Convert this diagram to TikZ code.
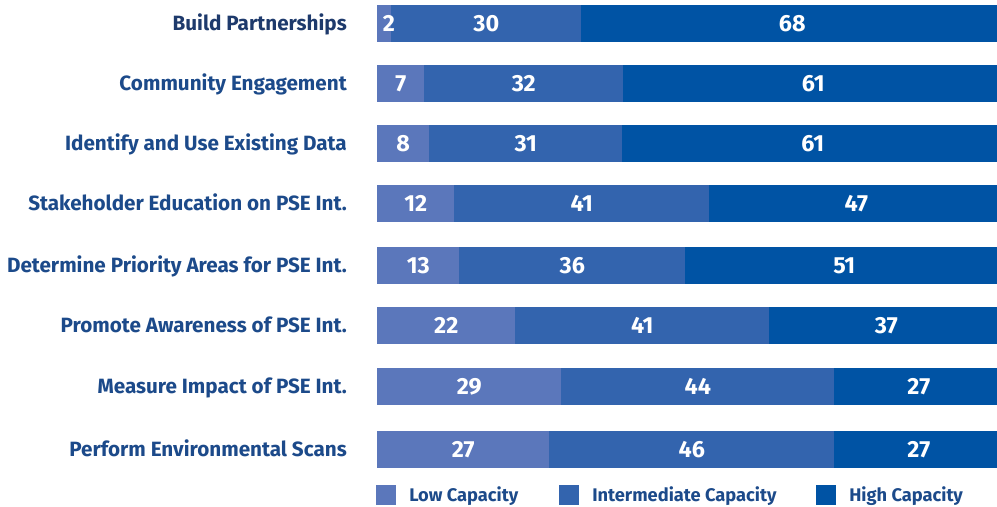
\documentclass[tikz,border=0pt]{standalone}
\usepackage{fontspec}
\setmainfont{Fira Sans}
\definecolor{lowc}{HTML}{5B77BB}
\definecolor{midc}{HTML}{3364AE}
\definecolor{highc}{HTML}{0053A4}
\definecolor{labc}{HTML}{1C4A8A}
\definecolor{labd}{HTML}{1E3A6C}
\begin{document}
\begin{tikzpicture}[x=0.75pt,y=-0.75pt,
  seg/.style={anchor=north west,inner sep=0pt,minimum height=27.75pt},
  num/.style={anchor=base,inner sep=0pt,text=white,font=\bfseries\fontsize{17.5}{17.5}\selectfont},
  rowlab/.style={anchor=base east,inner sep=0pt,text=labc,font=\bfseries\fontsize{15.5}{15.5}\selectfont},
  legbox/.style={anchor=north west,inner sep=0pt,minimum width=15pt,minimum height=15pt},
  legtext/.style={anchor=base west,inner sep=0pt,text=labc,font=\bfseries\fontsize{13.7}{13.7}\selectfont}]
\useasboundingbox[fill=white] (0,0) rectangle (997,507);
\foreach \i/\t/\xa/\xb/\va/\vb/\vc/\lab in {
  1/5/391/581/2/30/68/Build Partnerships,
  2/65/424/623/7/32/61/Community Engagement,
  3/125/429/622/8/31/61/Identify and Use Existing Data,
  4/185/454/709/12/41/47/Stakeholder Education on PSE Int.,
  5/247/459/685/13/36/51/Determine Priority Areas for PSE Int.,
  6/307/515/769/22/41/37/Promote Awareness of PSE Int.,
  7/368/561/834/29/44/27/Measure Impact of PSE Int.,
  8/431/549/834/27/46/27/Perform Environmental Scans}{
  \pgfmathsetmacro{\wa}{(\xa-377)*0.75}
  \pgfmathsetmacro{\wb}{(\xb-\xa)*0.75}
  \pgfmathsetmacro{\wc}{(997-\xb)*0.75}
  \node[seg,fill=lowc,minimum width=\wa pt] (a\i) at (377,\t) {};
  \node[seg,fill=midc,minimum width=\wb pt] (b\i) at (\xa,\t) {};
  \node[seg,fill=highc,minimum width=\wc pt] (c\i) at (\xb,\t) {};
  \ifnum\i=1
    \node[num] (na\i) at ([xshift=3.5pt,yshift=-20pt]a\i.north) {\va};
    \node[rowlab,text=labd] (l\i) at (347,\t+25.8) {\lab};
  \else
    \node[num] (na\i) at ([yshift=-20pt]a\i.north) {\va};
    \node[rowlab] (l\i) at (347,\t+25.8) {\lab};
  \fi
  \node[num] (nb\i) at ([yshift=-20pt]b\i.north) {\vb};
  \node[num] (nc\i) at ([xshift=2.25pt,yshift=-20pt]c\i.north) {\vc};
}
% legend
\node[legbox,fill=lowc] (k1) at (376,485) {};
\node[legtext] (t1) at (409,501.5) {Low Capacity};
\node[legbox,fill=midc] (k2) at (559,485) {};
\node[legtext] (t2) at (592,501.5) {Intermediate Capacity};
\node[legbox,fill=highc] (k3) at (816,485) {};
\node[legtext] (t3) at (849,501.5) {High Capacity};
\end{tikzpicture}
\end{document}
